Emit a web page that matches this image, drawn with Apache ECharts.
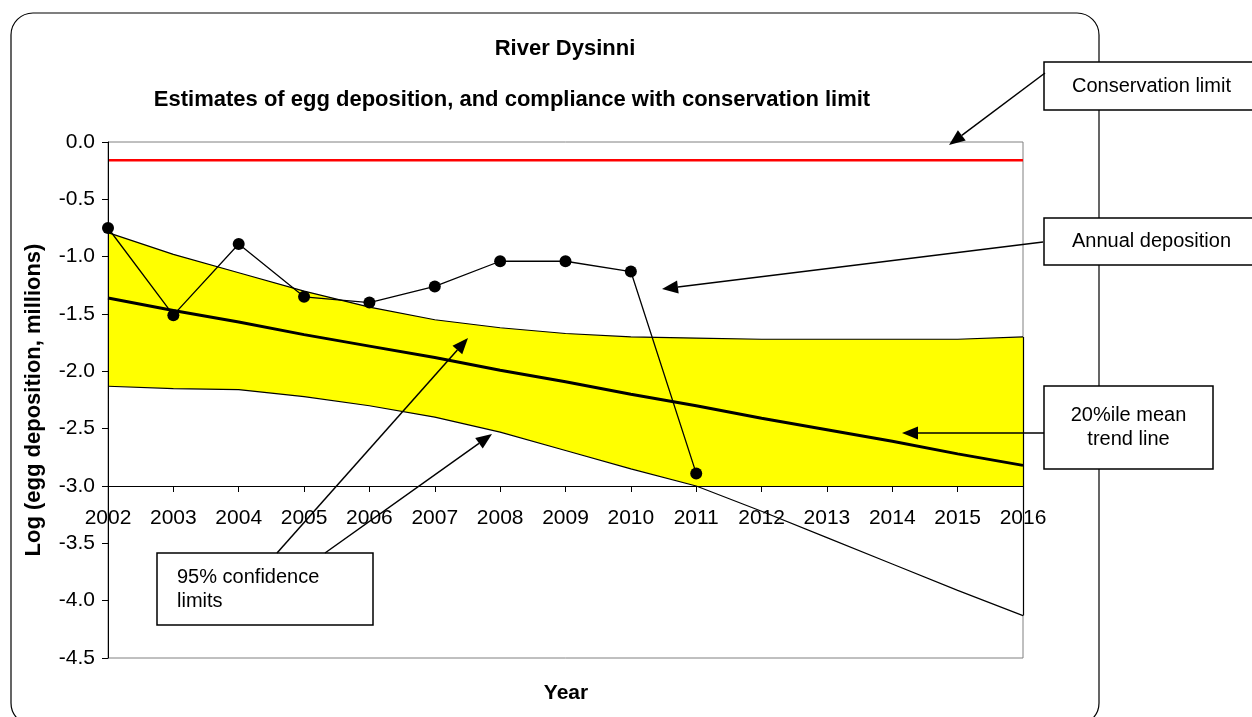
<!DOCTYPE html>
<html>
<head>
<meta charset="utf-8">
<script src="https://cdn.jsdelivr.net/npm/echarts@6/dist/echarts.min.js"></script>
<style>
  html, body { margin: 0; padding: 0; background: #fff; }
  #chart { width: 1252px; height: 717px; }
</style>
</head>
<body>
<div id="chart"></div>
<script>
// 数据
var years = ['2002', '2003', '2004', '2005', '2006', '2007', '2008', '2009',
             '2010', '2011', '2012', '2013', '2014', '2015', '2016'];
var annualDeposition = [-0.75, -1.51, -0.89, -1.35, -1.40, -1.26, -1.04, -1.04, -1.13, -2.89,
                        null, null, null, null, null];
var upperCI = [-0.79, -0.98, -1.14, -1.30, -1.44, -1.55, -1.62, -1.67, -1.70, -1.71,
               -1.72, -1.72, -1.72, -1.72, -1.70];
var lowerCI = [-2.13, -2.15, -2.16, -2.22, -2.30, -2.40, -2.53, -2.69, -2.85, -3.00,
               -3.22, -3.45, -3.68, -3.91, -4.13];
var trendLine = [-1.36, -1.47, -1.57, -1.68, -1.78, -1.88, -1.99, -2.09, -2.20, -2.30,
                 -2.41, -2.51, -2.61, -2.72, -2.82];
var conservationLimit = [-0.16, -0.16, -0.16, -0.16, -0.16, -0.16, -0.16, -0.16, -0.16, -0.16,
                         -0.16, -0.16, -0.16, -0.16, -0.16];

var FONT = 'Arial, "Liberation Sans", sans-serif';
var last = years.length - 1;

var chart = echarts.init(document.getElementById('chart'));

// 箭头: 一条线 + 一个三角形
function arrow(x1, y1, x2, y2) {
  var dx = x2 - x1, dy = y2 - y1;
  var len = Math.sqrt(dx * dx + dy * dy);
  var ux = dx / len, uy = dy / len;
  var hl = 16, hw = 6.5;
  var bx = x2 - ux * hl, by = y2 - uy * hl;
  return [
    { type: 'line', z: 100, shape: { x1: x1, y1: y1, x2: bx, y2: by },
      style: { stroke: '#000', lineWidth: 1.5 } },
    { type: 'polygon', z: 100,
      shape: { points: [[x2, y2], [bx - uy * hw, by + ux * hw], [bx + uy * hw, by - ux * hw]] },
      style: { fill: '#000' } }
  ];
}

// 文本框
function box(x, y, w, h, text, align) {
  return {
    type: 'group', z: 100,
    children: [
      { type: 'rect', shape: { x: x, y: y, width: w, height: h },
        style: { fill: '#fff', stroke: '#000', lineWidth: 1.5 } },
      { type: 'text',
        style: {
          x: align === 'left' ? x + 20 : x + w / 2, y: y + h / 2,
          text: text, align: align || 'center', verticalAlign: 'middle',
          font: '20px ' + FONT, fill: '#000', lineHeight: 24
        } }
    ]
  };
}

var graphics = [
  // 外框
  { type: 'rect', z: -1, shape: { x: 11, y: 13, width: 1088, height: 712, r: 22 },
    style: { fill: 'none', stroke: '#000', lineWidth: 1.2 } },
  { type: 'text', z: 100, style: { x: 565, y: 49, text: 'River Dysinni', align: 'center',
    verticalAlign: 'middle', font: 'bold 22px ' + FONT, fill: '#000' } },
  { type: 'text', z: 100, style: { x: 512, y: 100,
    text: 'Estimates of egg deposition, and compliance with conservation limit',
    align: 'center', verticalAlign: 'middle', font: 'bold 22px ' + FONT, fill: '#000' } },
  { type: 'text', z: 100, style: { x: 566, y: 693, text: 'Year', align: 'center',
    verticalAlign: 'middle', font: 'bold 21px ' + FONT, fill: '#000' } },
  box(1044, 62, 215, 48, 'Conservation limit'),
  box(1044, 218, 215, 47, 'Annual deposition'),
  box(1044, 386, 169, 83, '20%ile mean\ntrend line'),
  box(157, 553, 216, 72, '95% confidence\nlimits', 'left')
];
graphics = graphics
  .concat(arrow(1045, 73, 949, 145))
  .concat(arrow(1043, 242, 662, 289))
  .concat(arrow(1044, 433, 902, 433))
  .concat(arrow(277, 553, 468, 338))
  .concat(arrow(325, 553, 492, 434));

var option = {
  animation: false,
  backgroundColor: '#fff',
  textStyle: { fontFamily: FONT },
  grid: {
    left: 108, top: 142, width: 915, height: 516,
    show: true, borderColor: '#808080', borderWidth: 1
  },
  xAxis: {
    type: 'category',
    data: years,
    boundaryGap: false,
    offset: -172,       // 让 x 轴落在 -3.0 的位置
    z: 10,
    axisLine: { onZero: false, lineStyle: { color: '#000', width: 1 } },
    axisTick: { show: true, length: 6, lineStyle: { color: '#000' } },
    axisLabel: { color: '#000', fontSize: 21, margin: 22, fontFamily: FONT }
  },
  yAxis: {
    type: 'value',
    min: -4.5,
    max: 0,
    interval: 0.5,
    z: 10,
    name: 'Log (egg deposition, millions)',
    nameLocation: 'middle',
    nameGap: 63,
    nameTextStyle: { fontSize: 22, fontWeight: 'bold', color: '#000', fontFamily: FONT },
    splitLine: { show: false },
    axisLine: { show: true, onZero: false, lineStyle: { color: '#000', width: 1 } },
    axisTick: { show: true, length: 6, lineStyle: { color: '#000' } },
    axisLabel: {
      color: '#000', fontSize: 21, margin: 13, fontFamily: FONT,
      formatter: function (v) { return v.toFixed(1); }
    }
  },
  series: [
    {
      name: 'upper', type: 'line', data: upperCI, symbol: 'none', z: 1,
      lineStyle: { color: '#000', width: 1.2 },
      areaStyle: { color: '#FFFF00', opacity: 1, origin: -3 },
      // 置信带右侧的黑色边线
      markLine: {
        silent: true, symbol: 'none', label: { show: false },
        lineStyle: { color: '#000', width: 1.2, type: 'solid' },
        data: [[{ coord: [years[last], upperCI[last]] }, { coord: [years[last], lowerCI[last]] }]]
      }
    },
    {
      name: 'lower', type: 'line', data: lowerCI, symbol: 'none', z: 2,
      lineStyle: { color: '#000', width: 1.2 },
      areaStyle: { color: '#FFFFFF', opacity: 1, origin: -3 }
    },
    {
      name: 'trend', type: 'line', data: trendLine, symbol: 'none', z: 3,
      lineStyle: { color: '#000', width: 3 }
    },
    {
      name: 'limit', type: 'line', data: conservationLimit, symbol: 'none', z: 3,
      lineStyle: { color: '#FF0000', width: 2.5 }
    },
    {
      name: 'annual', type: 'line', data: annualDeposition, z: 5,
      symbol: 'circle', symbolSize: 12,
      itemStyle: { color: '#000' },
      lineStyle: { color: '#000', width: 1.3 }
    }
  ],
  graphic: graphics
};

chart.setOption(option);
</script>
</body>
</html>
